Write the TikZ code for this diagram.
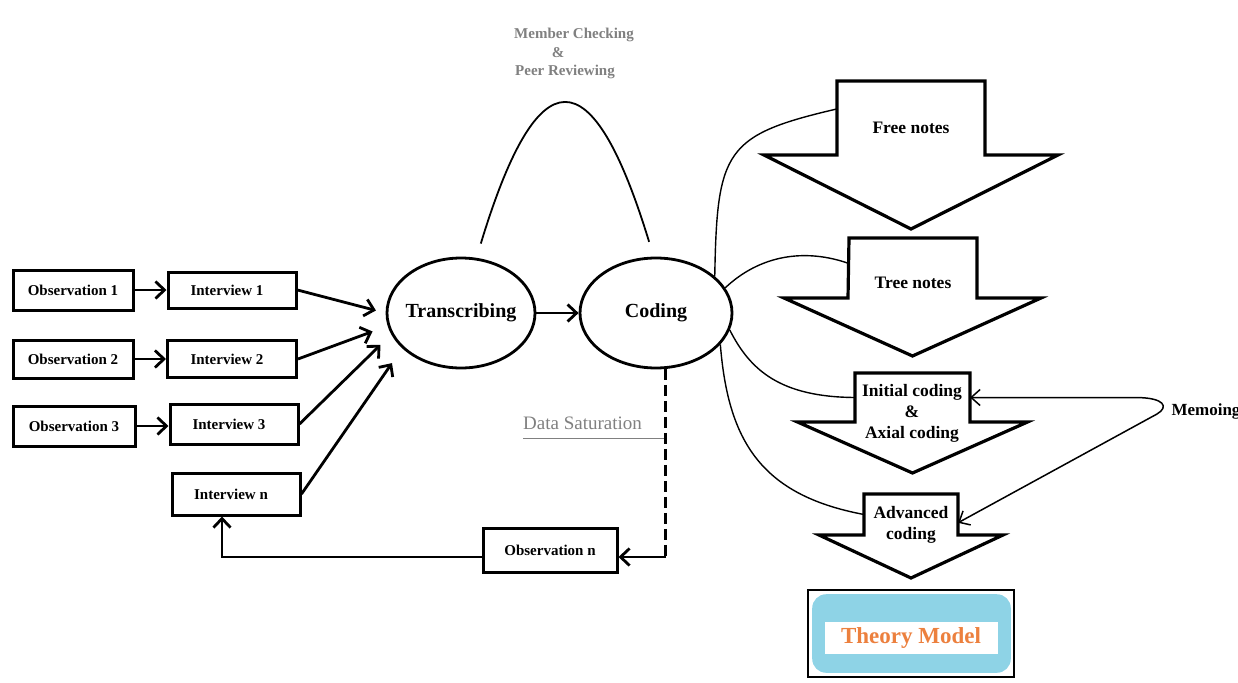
\documentclass[tikz,border=0pt]{standalone}
\usepackage{fontspec}
\setmainfont{Liberation Serif}
\usetikzlibrary{shapes.geometric,arrows.meta,positioning}
\definecolor{tmblue}{RGB}{142,211,230}
\definecolor{tmorange}{RGB}{236,128,62}
\definecolor{notegray}{RGB}{128,128,128}

% block arrow drawn round a shaft node: #1 shaft, #2 wing, #3 half head, #4 head length
\newcommand{\downhead}[4]{%
  \draw[blockline] (#1.north west) -- (#1.north east) -- (#1.south east)
    -- ++(#2,0) -- ++(-#3,#4) -- ++(-#3,-#4) -- ++(#2,0) -- cycle;}

\begin{document}
\begin{tikzpicture}[x=1pt, y=-1pt,
   box/.style={draw, line width=3pt, inner sep=0pt, font=\bfseries\fontsize{15}{17}\selectfont},
   intbox/.style={box, execute at end node=\hspace{10pt}},
   oval/.style={draw, ellipse, line width=2.8pt, inner sep=0pt, font=\bfseries\fontsize{20}{24}\selectfont},
   flow/.style={line width=2.8pt, -{Straight Barb[length=9pt,width=17pt]}},
   shaft/.style={inner sep=0pt, outer sep=0pt},
   blockline/.style={line width=3.2pt, line join=miter},
   blocktext/.style={align=center, font=\bfseries\fontsize{17.5}{21}\selectfont},
   lead/.style={line width=1.4pt},
   memoline/.style={line width=1.5pt, {Straight Barb[length=9pt,width=16pt]}-{Straight Barb[length=9pt,width=16pt]}},
   review/.style={text=notegray, font=\bfseries\fontsize{15}{17}\selectfont},
   sattext/.style={text=notegray, font=\fontsize{19}{21}\selectfont},
   ]
   \useasboundingbox (0,0) rectangle (1238,682);

   % observations and interviews
   \node[box, minimum width=120, minimum height=40] (obs1) at (73,290) {Observation 1};
   \node[intbox, minimum width=128, minimum height=36] (int1) at (232,290) {Interview 1};
   \node[box, minimum width=120, minimum height=38] (obs2) at (73,359) {Observation 2};
   \node[intbox, minimum width=129, minimum height=37] (int2) at (232,359) {Interview 2};
   \node[box, minimum width=122, minimum height=40] (obs3) at (74,426) {Observation 3};
   \node[intbox, minimum width=128, minimum height=40] (int3) at (234,424) {Interview 3};
   \node[intbox, minimum width=128, minimum height=42] (intn) at (236,494) {Interview n};
   \node[box, minimum width=134, minimum height=44] (obsn) at (550,550) {Observation n};

   \node[oval, minimum width=148, minimum height=110] (trans) at (461,313) {\makebox[0pt]{Transcribing}};
   \node[oval, minimum width=152, minimum height=110] (coding) at (656,313) {\makebox[0pt]{Coding}};

   \draw[flow] (obs1.east) -- (int1.west);
   \draw[flow] (obs2.east) -- (obs2.east -| int2.west);
   \draw[flow] (obs3.east) -- (obs3.east -| int3.west);
   \draw[flow, shorten >=10pt] (int1.east) -- (trans.west);
   \draw[flow, shorten >=16pt] (int2.east) -- (trans.190);
   \draw[flow, shorten >=15pt] (int3.east) -- (trans.197);
   \draw[flow, shorten >=18pt] (intn.east) -- (trans.211);
   \draw[flow] (trans) -- (coding);

   % member checking
   \draw[line width=1.8pt] ([yshift=15pt]trans.70) .. controls (538,55) and (592,55) .. ([yshift=15pt]coding.97);
   \node[review] (rev1) at (574,35) {Member Checking};
   \node[review] (rev2) at (558,53) {\&};
   \node[review] (rev3) at (565,72) {Peer Reviewing};

   % data saturation loop
   \coordinate (lowrow) at (0,557);
   \coordinate (satend) at (coding.280 |- lowrow);
   \coordinate (satline) at (523,438);
   \node[sattext, anchor=south west, inner xsep=0pt, inner ysep=8pt] (sat) at (satline) {Data Saturation};
   \draw[notegray, line width=0.6pt] (satline) -- (satline -| satend);
   \draw[line width=2.8pt, dash pattern=on 11pt off 5pt] (coding.280) -- (satend);
   \draw[flow] (satend) -- (satend -| obsn.east);
   \draw[flow] (obsn.west |- satend) -| ([xshift=-14pt]intn.south);

   % coding steps
   \node[shaft, minimum width=148, minimum height=74] (free) at (911,118) {};
   \node[shaft, minimum width=128, minimum height=60] (tree) at (913,268) {};
   \node[shaft, minimum width=115, minimum height=49] (init) at (912.5,397.5) {};
   \node[shaft, minimum width=94, minimum height=41] (adv) at (911,514.5) {};
   \downhead{free}{73}{147}{74}
   \downhead{tree}{64}{128.5}{58}
   \downhead{init}{57.5}{115}{51}
   \downhead{adv}{45}{92}{43}
   \node[blocktext] (freetxt) at (911,128) {Free notes};
   \node[blocktext] (treetxt) at (913,283) {Tree notes};
   \node[blocktext] (inittxt) at (912,413) {Initial coding\\\&\\Axial coding};
   \node[blocktext] (advtxt) at (911,524.5) {Advanced\\coding};

   \draw[lead] (coding.32) .. controls (717,150) and (725,135) .. (free.173);
   \draw[lead] (coding.20) .. controls (760,255) and (805,248) .. (tree.176);
   \draw[lead] (coding.347) .. controls (750,370) and (780,397) .. (init.west);
   \draw[lead] (coding.334) .. controls (728,440) and (760,495) .. (adv.west);

   % memoing
   \node[anchor=west, font=\bfseries\fontsize{17}{19}\selectfont] (memo) at (1168,411) {Memoing};
   \coordinate (mturn) at (1157,414);
   \draw[memoline] (init.east) -- ++(165,0) .. controls +(30,0) and +(12,-7) .. (mturn) -- (adv.350);

   % theory model
   \node[draw, line width=1.6pt, minimum width=206, minimum height=87, inner sep=0pt] (theory) at (911,633.5) {};
   \fill[tmblue, rounded corners=14pt] ([shift={(5,5)}]theory.north west) rectangle ([shift={(-4,-5)}]theory.south east);
   \fill[white] ([shift={(18,33)}]theory.north west) rectangle ([shift={(-17,-24)}]theory.south east);
   \node[text=tmorange, font=\bfseries\fontsize{23}{25}\selectfont] (tmlabel) at (911,638) {Theory Model};
\end{tikzpicture}
\end{document}
